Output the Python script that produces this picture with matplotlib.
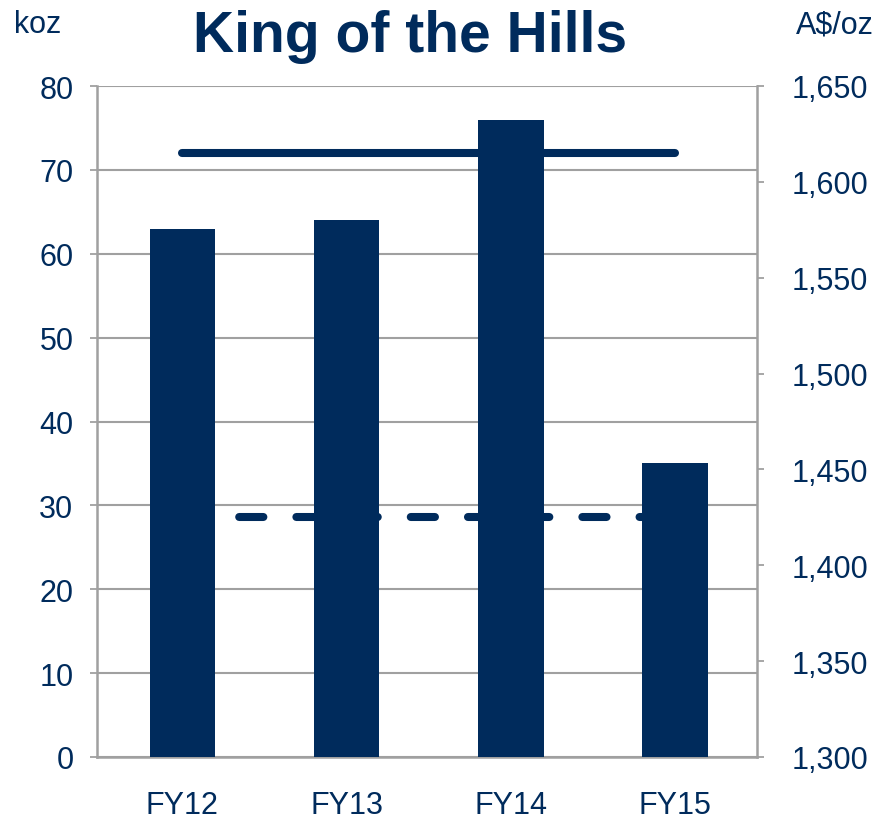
import matplotlib.pyplot as plt
from matplotlib.ticker import FuncFormatter

# donnees
annees = ['FY12', 'FY13', 'FY14', 'FY15']
production = [63, 64, 76, 35]          # koz
cout_haut = [1615, 1615, 1615, 1615]   # A$/oz, trait plein
cout_bas = [1425, 1425, 1425, 1425]    # A$/oz, pointilles

bleu = '#002B5C'
gris = '#A0A0A0'

plt.rcParams['font.family'] = ['Liberation Sans', 'DejaVu Sans']

fig = plt.figure(figsize=(8.79, 8.20), dpi=100)
ax = fig.add_axes([97/879, 1-758/820, 660/879, 671/820])
ax2 = ax.twinx()

# les lignes derriere les barres
ax.set_zorder(ax2.get_zorder() + 1)
ax.patch.set_visible(False)

x = list(range(len(annees)))
ax.bar(x, production, width=0.4, color=bleu, zorder=3)
ax2.plot(x, cout_haut, color=bleu, lw=5.8, solid_capstyle='round')
ax2.plot(x, cout_bas, color=bleu, lw=5.8, dashes=(3, 4.1), dash_capstyle='round')

ax.set_xlim(-0.52, 3.5)
ax.set_ylim(0, 80)
ax.set_yticks(range(0, 81, 10))
ax2.set_ylim(1300, 1650)
ax2.set_yticks(range(1300, 1651, 50))
ax2.yaxis.set_major_formatter(FuncFormatter(lambda v, p: f'{int(v):,}'))

ax.grid(axis='y', color=gris, lw=1.5, zorder=0)
ax.set_xticks(x)
ax.set_xticklabels(annees)

for s in ['top', 'right']:
    ax.spines[s].set_visible(False)
for s in ['top', 'left', 'bottom']:
    ax2.spines[s].set_visible(False)
for s in ['left', 'bottom']:
    ax.spines[s].set_color(gris)
    ax.spines[s].set_linewidth(1.8)
ax2.spines['right'].set_color(gris)
ax2.spines['right'].set_linewidth(1.8)

ax.tick_params(axis='y', direction='out', length=5, width=1.3, color=gris,
               labelsize=22, labelcolor=bleu, pad=12)
ax.tick_params(axis='x', length=0, labelsize=22, labelcolor=bleu, pad=24)
ax2.tick_params(axis='y', direction='out', length=5, width=1.3, color=gris,
                labelsize=22, labelcolor=bleu, pad=20)

fig.text(410/879, 1-52/820, 'King of the Hills', ha='center', va='baseline',
         fontsize=41, fontweight='bold', color=bleu)
fig.text(14/879, 1-33/820, 'koz', ha='left', va='baseline', fontsize=22, color=bleu)
fig.text(874/879, 1-33/820, 'A$/oz', ha='right', va='baseline', fontsize=22, color=bleu)

fig.savefig('out.png', dpi=100)
